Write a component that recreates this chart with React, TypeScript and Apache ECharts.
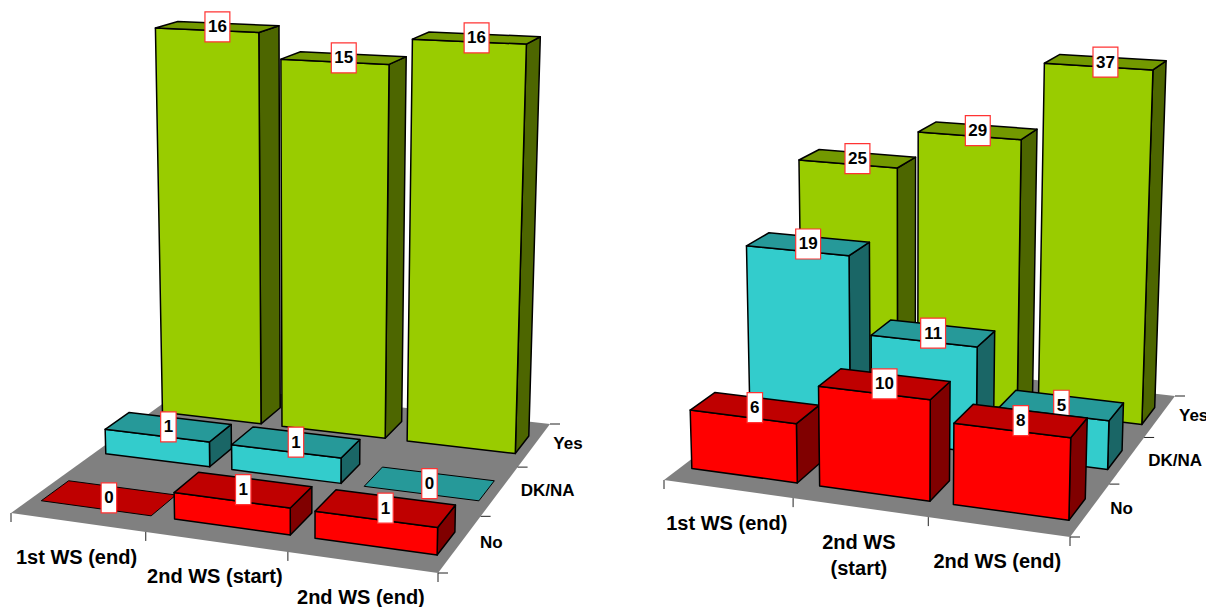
import React, { useEffect, useRef } from "react";
import * as echarts from "echarts";

// Chart values, one list per answer row and panel
const rowNames = ["No", "DK/NA", "Yes"];
const leftCategories = ["1st WS (end)", "2nd WS (start)", "2nd WS (end)"];
const rightCategories = ["1st WS (end)", "2nd WS\n(start)", "2nd WS (end)"];
const leftNo = [0, 1, 1];
const leftDk = [1, 1, 0];
const leftYes = [16, 15, 16];
const rightNo = [6, 10, 8];
const rightDk = [19, 11, 5];
const rightYes = [25, 29, 37];

type Pt = [number, number];

// Camera for each panel: floor corners on screen (front-left, front-right,
// back-right, back-left), vanishing point of the verticals, height gain
const leftCamera = {
  quad: [[11, 513], [438, 573], [550, 424], [190, 384]] as Pt[],
  vanish: [305, 8200] as Pt,
  gain: 0.068,
  axisMax: 20,
};
const rightCamera = {
  quad: [[664, 480], [1070, 537], [1175, 396], [827, 356]] as Pt[],
  vanish: [905, 8000] as Pt,
  gain: 0.052,
  axisMax: 40,
};

const BAR_HALF_WIDTH = 0.138;
const BAR_FRONT_INSET = 0.09;
const BAR_DEPTH = 0.136;
const ROW_LABEL_OFFSET: Pt[] = [[20, -1], [21, 0], [19, -1]];

const palette: Record<string, { front: string; top: string; side: string }> = {
  No: { front: "#FF0000", top: "#BF0000", side: "#800000" },
  "DK/NA": { front: "#33CCCC", top: "#269999", side: "#1A6666" },
  Yes: { front: "#99CC00", top: "#739900", side: "#4D6600" },
};

function makeProjector(cam: typeof leftCamera) {
  const [[x0, y0], [x1, y1], [x2, y2], [x3, y3]] = cam.quad;
  const dx1 = x1 - x2, dx2 = x3 - x2, sx = x0 - x1 + x2 - x3;
  const dy1 = y1 - y2, dy2 = y3 - y2, sy = y0 - y1 + y2 - y3;
  const det = dx1 * dy2 - dx2 * dy1;
  const g = (sx * dy2 - dx2 * sy) / det;
  const h = (dx1 * sy - sx * dy1) / det;
  const a = x1 - x0 + g * x1, b = x3 - x0 + h * x3;
  const d = y1 - y0 + g * y1, e = y3 - y0 + h * y3;
  // u runs along the categories, v into the depth, f is the axis fraction
  return (u: number, v: number, f = 0): Pt => {
    const w = g * u + h * v + 1 - cam.gain * f;
    const s = cam.gain * f;
    return [
      (a * u + b * v + x0 - s * cam.vanish[0]) / w,
      (d * u + e * v + y0 - s * cam.vanish[1]) / w,
    ];
  };
}

const FONT = "bold 20px 'Liberation Sans', Arial, sans-serif";
const ROW_FONT = "bold 17px 'Liberation Sans', Arial, sans-serif";
const LABEL_FONT = "bold 17px 'Liberation Sans', Arial, sans-serif";
const EDGE = { stroke: "#000", lineWidth: 1.5, lineJoin: "round" };

function barSeries(cam: typeof leftCamera, gridIndex: number, row: number, values: number[]) {
  const project = makeProjector(cam);
  const colors = palette[rowNames[row]];
  return {
    type: "custom",
    name: rowNames[row],
    xAxisIndex: gridIndex,
    yAxisIndex: gridIndex,
    data: values.map((v, i) => [i, v]),
    renderItem: (params: any, api: any) => {
      const cs = params.coordSys;
      const value = api.value(1);
      const p = api.coord([api.value(0), value]);
      const uc = (p[0] - cs.x) / cs.width;
      const f = (cs.y + cs.height - p[1]) / cs.height;
      const u0 = uc - BAR_HALF_WIDTH, u1 = uc + BAR_HALF_WIDTH;
      const v0 = row / 3 + BAR_FRONT_INSET, v1 = v0 + BAR_DEPTH;
      const children: any[] = [];
      const face = (pts: Pt[], fill: string) =>
        children.push({
          type: "polygon",
          shape: { points: pts },
          style: { fill, ...EDGE, lineWidth: value === 0 ? 1 : 1.5 },
        });
      if (value > 0) {
        face([project(u1, v0), project(u1, v1), project(u1, v1, f), project(u1, v0, f)], colors.side);
        face([project(u0, v0), project(u1, v0), project(u1, v0, f), project(u0, v0, f)], colors.front);
      }
      face([project(u0, v0, f), project(u1, v0, f), project(u1, v1, f), project(u0, v1, f)], colors.top);

      // Value tag sits on the centre of the top face
      const [lx, ly] = project(uc, (v0 + v1) / 2, f);
      const text = String(value);
      const w = text.length * 9.45 + 6;
      children.push({
        type: "rect",
        shape: { x: lx - w / 2, y: ly - 15, width: w, height: 30 },
        style: { fill: "#fff", stroke: "#FF3333", lineWidth: 1.2 },
      });
      children.push({
        type: "text",
        style: { text, x: lx, y: ly, font: LABEL_FONT, fill: "#000", align: "center", verticalAlign: "middle" },
      });
      return { type: "group", children };
    },
  };
}

function floorSeries(cam: typeof leftCamera, gridIndex: number, categories: string[]) {
  const project = makeProjector(cam);
  return {
    type: "custom",
    xAxisIndex: gridIndex,
    yAxisIndex: gridIndex,
    data: [[0, 0]],
    renderItem: () => {
      const children: any[] = [
        {
          type: "polygon",
          shape: { points: [project(0, 0), project(1, 0), project(1, 1), project(0, 1)] },
          style: { fill: "#808080" },
        },
      ];
      for (let i = 0; i <= 3; i++) {
        const [x, y] = project(i / 3, 0);
        children.push({ type: "line", shape: { x1: x, y1: y, x2: x, y2: y + 9 }, style: { stroke: "#222", lineWidth: 1 } });
        const [rx, ry] = project(1, i / 3);
        children.push({ type: "line", shape: { x1: rx, y1: ry, x2: rx + 10, y2: ry }, style: { stroke: "#222", lineWidth: 1 } });
      }
      categories.forEach((name, i) => {
        const [x, y] = project((i + 0.5) / 3, 0);
        children.push({
          type: "text",
          style: { text: name, x: x - 1, y: y + 21.5, font: FONT, fill: "#000", align: "center", verticalAlign: "top", lineHeight: 26 },
        });
      });
      rowNames.forEach((name, r) => {
        const [x, y] = project(1, (r + 0.5) / 3);
        children.push({
          type: "text",
          style: {
            text: name,
            x: x + ROW_LABEL_OFFSET[r][0],
            y: y + ROW_LABEL_OFFSET[r][1],
            font: ROW_FONT,
            fill: "#000",
            align: "left",
            verticalAlign: "middle",
          },
        });
      });
      return { type: "group", children };
    },
  };
}

export default function App() {
  const ref = useRef<HTMLDivElement>(null);
  useEffect(() => {
    document.body.style.margin = "0";
    const chart = echarts.init(ref.current!, undefined, { renderer: "svg" });
    const hiddenX = (gridIndex: number, data: string[]) => ({ type: "category", gridIndex, data, show: false });
    const hiddenY = (gridIndex: number, max: number) => ({ type: "value", gridIndex, min: 0, max, show: false });
    chart.setOption({
      animation: false,
      backgroundColor: "#fff",
      tooltip: { show: false },
      grid: [
        { left: 0, top: 0, width: 600, height: 600 },
        { left: 606, top: 0, width: 600, height: 600 },
      ],
      xAxis: [hiddenX(0, leftCategories), hiddenX(1, rightCategories)],
      yAxis: [hiddenY(0, leftCamera.axisMax), hiddenY(1, rightCamera.axisMax)],
      series: [
        floorSeries(leftCamera, 0, leftCategories),
        barSeries(leftCamera, 0, 2, leftYes),
        barSeries(leftCamera, 0, 1, leftDk),
        barSeries(leftCamera, 0, 0, leftNo),
        floorSeries(rightCamera, 1, rightCategories),
        barSeries(rightCamera, 1, 2, rightYes),
        barSeries(rightCamera, 1, 1, rightDk),
        barSeries(rightCamera, 1, 0, rightNo),
      ],
    });
    return () => chart.dispose();
  }, []);
  return <div ref={ref} style={{ width: 1206, height: 607 }} />;
}
